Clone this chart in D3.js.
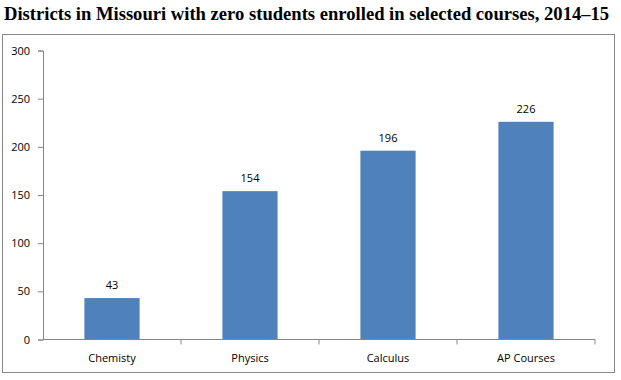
<!DOCTYPE html>
<meta charset="utf-8">
<style>
  body { margin: 0; background: #fff; }
  .tick text { font-family: "Open Sans", "Noto Sans", sans-serif; font-size: 11px; fill: #000; }
</style>
<body>
<svg width="621" height="380"></svg>
<script src="https://cdn.jsdelivr.net/npm/d3@7"></script>
<script>
// data
var courses = ["Chemisty", "Physics", "Calculus", "AP Courses"];
var districts = [43, 154, 196, 226];
var yTicks = [0, 50, 100, 150, 200, 250, 300];

var svg = d3.select("svg");

// title: size it so it spans the width like the original
var title = svg.append("text")
    .attr("x", 4)
    .attr("y", 20)
    .attr("font-family", "'Liberation Serif', 'DejaVu Serif', serif")
    .attr("font-weight", "bold")
    .attr("font-size", 16)
    .attr("fill", "#000")
    .text("Districts in Missouri with zero students enrolled in selected courses, 2014\u201315");
var tw = title.node().getComputedTextLength();
title.attr("font-size", Math.floor(16 * 608 / tw * 10) / 10);

// chart frame
svg.append("rect")
    .attr("x", 2.5).attr("y", 34.5)
    .attr("width", 612).attr("height", 338)
    .attr("fill", "none")
    .attr("stroke", "#888");

var x = d3.scaleBand()
    .domain(courses)
    .range([43, 595])
    .paddingInner(0.6)
    .paddingOuter(0.3);

var y = d3.scaleLinear()
    .domain([0, 300])
    .range([339.5, 50.5]);

// y axis
var yAxis = svg.append("g")
    .attr("transform", "translate(43,0)")
    .call(d3.axisLeft(y).tickValues(yTicks).tickSize(5).tickPadding(8));
yAxis.select(".domain").attr("stroke", "#868686");
yAxis.selectAll(".tick line").attr("stroke", "#868686");

// bars
svg.append("g").selectAll("rect")
    .data(districts)
    .enter().append("rect")
      .attr("x", function(d, i) { return x(courses[i]); })
      .attr("y", function(d) { return y(d); })
      .attr("width", x.bandwidth())
      .attr("height", function(d) { return y(0) - y(d); })
      .attr("fill", "#4F81BD");

// value labels
svg.append("g").selectAll("text")
    .data(districts)
    .enter().append("text")
      .attr("x", function(d, i) { return x(courses[i]) + x.bandwidth() / 2; })
      .attr("y", function(d) { return y(d) - 9; })
      .attr("text-anchor", "middle")
      .attr("font-family", "'Open Sans', 'Noto Sans', sans-serif")
      .attr("font-size", 11)
      .attr("fill", "#000")
      .text(function(d) { return d; });

// x axis, ticks between the categories
var xAxis = svg.append("g")
    .attr("transform", "translate(0," + y(0) + ")");
xAxis.append("line")
    .attr("x1", 43).attr("x2", 595)
    .attr("stroke", "#868686");
xAxis.selectAll(".sep")
    .data(courses)
    .enter().append("line")
      .attr("class", "sep")
      .attr("x1", function(d) { return x(d) - x.step() * x.paddingOuter() + x.step(); })
      .attr("x2", function(d) { return x(d) - x.step() * x.paddingOuter() + x.step(); })
      .attr("y1", 0).attr("y2", 5)
      .attr("stroke", "#868686");
xAxis.selectAll(".lab")
    .data(courses)
    .enter().append("text")
      .attr("x", function(d) { return x(d) + x.bandwidth() / 2; })
      .attr("y", 22)
      .attr("text-anchor", "middle")
      .attr("font-family", "'Open Sans', 'Noto Sans', sans-serif")
      .attr("font-size", 11)
      .attr("fill", "#000")
      .text(function(d) { return d; });
</script>
</body>
